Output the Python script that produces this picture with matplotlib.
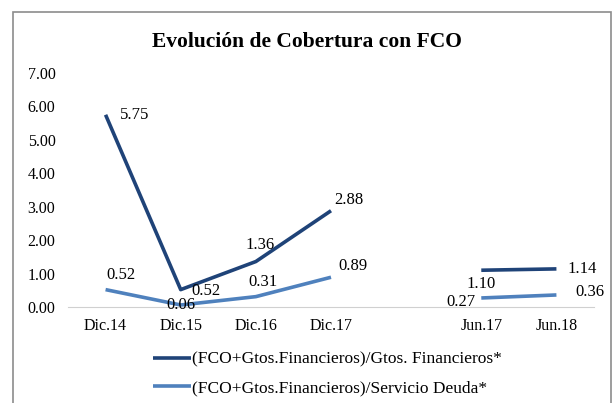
import numpy as np
import matplotlib.pyplot as plt
from matplotlib.patches import Rectangle

plt.rcParams['font.family'] = ['Liberation Serif', 'DejaVu Serif']

categories = ['Dic.14', 'Dic.15', 'Dic.16', 'Dic.17', '', 'Jun.17', 'Jun.18']
gtos_fin = [5.75, 0.52, 1.36, 2.88, np.nan, 1.10, 1.14]
serv_deuda = [0.52, 0.06, 0.31, 0.89, np.nan, 0.27, 0.36]
names = ['(FCO+Gtos.Financieros)/Gtos. Financieros*',
         '(FCO+Gtos.Financieros)/Servicio Deuda*']

dark = '#1F4378'
light = '#4F81BD'

fig = plt.figure(figsize=(6.14, 4.03), dpi=100)
fig.patches.append(Rectangle((13 / 614, -0.1), 598 / 614, 1.1 - 12 / 403,
                             transform=fig.transFigure, fill=False,
                             edgecolor='#8c8c8c', linewidth=1.2))
ax = fig.add_axes([68 / 614, 96 / 403, 526 / 614, 234 / 403])

x = np.arange(len(categories))
ax.plot(x, gtos_fin, color=dark, lw=2.6, solid_capstyle='butt', label=names[0])
ax.plot(x, serv_deuda, color=light, lw=2.6, solid_capstyle='butt', label=names[1])

# label offsets in points (dx, dy, ha, va)
off1 = [(10, 0, 'left', 'center'), (8, -1, 'left', 'center'), (3, 6, 'center', 'bottom'),
        (2, 2, 'left', 'bottom'), None, (0, -4, 'center', 'top'), (8, 0, 'left', 'center')]
off2 = [(11, 5, 'center', 'bottom'), (0, 0, 'center', 'center'), (5, 5, 'center', 'bottom'),
        (5, 2, 'left', 'bottom'), None, (-4, -3, 'right', 'center'), (14, 2, 'left', 'center')]
for vals, offs in ((gtos_fin, off1), (serv_deuda, off2)):
    for xi, v, o in zip(x, vals, offs):
        if o is None or np.isnan(v):
            continue
        ax.annotate(f'{v:.2f}', (xi, v), xytext=(o[0], o[1]), textcoords='offset points',
                    ha=o[2], va=o[3], fontsize=12)

ax.set_xlim(-0.5, 6.5)
ax.set_ylim(0, 7)
ax.set_yticks(np.arange(0, 8))
ax.yaxis.set_major_formatter(plt.FormatStrFormatter('%.2f'))
ax.set_xticks(x)
ax.set_xticklabels(categories)
ax.tick_params(length=0, labelsize=11.5)
ax.tick_params(axis='x', pad=8)
ax.tick_params(axis='y', pad=9)
for s in ['top', 'right', 'left']:
    ax.spines[s].set_visible(False)
ax.spines['bottom'].set_color('#d0d0d0')

fig.text(0.5, 0.897, 'Evolución de Cobertura con FCO', ha='center', va='center',
         fontsize=15.5, fontweight='bold')

fig.legend(loc='upper left', bbox_to_anchor=(137 / 614, 1 - 336 / 403), frameon=False,
           fontsize=12.5, handlelength=2.2, handletextpad=0.05, labelspacing=0.7)

fig.savefig('out.png', dpi=100)
